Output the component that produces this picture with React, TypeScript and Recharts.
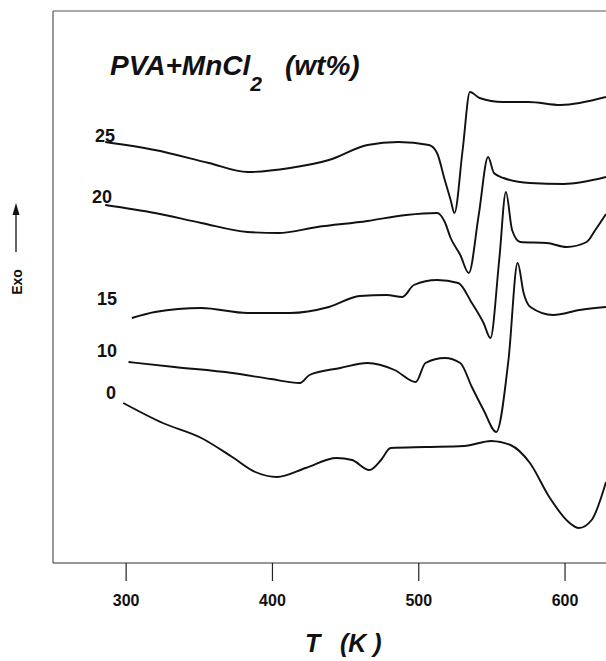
import { LineChart, Line, XAxis, YAxis, ReferenceLine } from "recharts";

// temperature (K) and signal (arb. units)
const curve25 = [
  { t: 285.7, v: 421 }, { t: 319.7, v: 413 }, { t: 356.6, v: 400 }, { t: 383, v: 391 },
  { t: 412, v: 395 }, { t: 438.6, v: 403 }, { t: 465, v: 418 }, { t: 486, v: 421 },
  { t: 507, v: 418 }, { t: 512.5, v: 410 }, { t: 517.8, v: 383 }, { t: 521.8, v: 363 },
  { t: 524.4, v: 350 }, { t: 530, v: 413 }, { t: 535, v: 471 }, { t: 541.6, v: 465 },
  { t: 557.5, v: 461 }, { t: 575, v: 461 }, { t: 597, v: 458 }, { t: 628, v: 466 },
];

const curve20 = [
  { t: 285.7, v: 358 }, { t: 319.7, v: 350 }, { t: 351.4, v: 340 }, { t: 383, v: 331 },
  { t: 404, v: 330 }, { t: 430.6, v: 336 }, { t: 465, v: 342 }, { t: 491.4, v: 348 },
  { t: 512.5, v: 350 }, { t: 517.8, v: 341 }, { t: 521.8, v: 325 }, { t: 528.4, v: 308 },
  { t: 534.2, v: 290 }, { t: 541, v: 348 }, { t: 547.4, v: 406 }, { t: 551.4, v: 390 },
  { t: 558, v: 385 }, { t: 576, v: 380 }, { t: 599, v: 379 }, { t: 628, v: 386 },
];

const curve15 = [
  { t: 303.9, v: 245 }, { t: 319.7, v: 251 }, { t: 351.4, v: 255 }, { t: 383, v: 250 },
  { t: 412, v: 250 }, { t: 438.6, v: 256 }, { t: 459.7, v: 267 }, { t: 478, v: 268 },
  { t: 488.8, v: 266 }, { t: 496.7, v: 278 }, { t: 512.5, v: 283 }, { t: 527, v: 280 },
  { t: 536.3, v: 260 }, { t: 544.3, v: 240 }, { t: 549, v: 225 }, { t: 555, v: 303 },
  { t: 559.6, v: 371 }, { t: 563.8, v: 333 }, { t: 569.4, v: 321 }, { t: 587.6, v: 320 },
  { t: 601, v: 316 }, { t: 614.8, v: 321 }, { t: 620.7, v: 333 }, { t: 628, v: 349 },
];

const curve10 = [
  { t: 301.6, v: 201 }, { t: 333, v: 196 }, { t: 372.5, v: 190 }, { t: 399, v: 184 },
  { t: 418.8, v: 180 }, { t: 425.3, v: 188 }, { t: 446.4, v: 195 }, { t: 465, v: 200 },
  { t: 483.5, v: 193 }, { t: 498, v: 181 }, { t: 504.6, v: 200 }, { t: 517.8, v: 205 },
  { t: 528.4, v: 200 }, { t: 536.3, v: 176 }, { t: 544.3, v: 153 }, { t: 553, v: 131 },
  { t: 561.4, v: 204 }, { t: 567.6, v: 300 }, { t: 571.7, v: 270 }, { t: 576.3, v: 256 },
  { t: 592, v: 248 }, { t: 610, v: 253 }, { t: 628, v: 256 },
];

const curve0 = [
  { t: 298, v: 160 }, { t: 325, v: 140 }, { t: 351.4, v: 125 }, { t: 372.5, v: 106 },
  { t: 388.3, v: 91 }, { t: 403, v: 86 }, { t: 422.7, v: 95 }, { t: 443.8, v: 105 },
  { t: 454.4, v: 103 }, { t: 466.3, v: 93 }, { t: 474.2, v: 103 }, { t: 480.8, v: 115 },
  { t: 504.6, v: 116 }, { t: 531, v: 117 }, { t: 549.6, v: 122 }, { t: 562.7, v: 118 },
  { t: 576, v: 100 }, { t: 589.2, v: 66 }, { t: 602.4, v: 41 }, { t: 609.5, v: 35 },
  { t: 618.2, v: 43 }, { t: 628, v: 81 },
];

const curves = [curve25, curve20, curve15, curve10, curve0];
const xTicks = [300, 400, 500, 600];

const font = "'Liberation Sans', Arial, sans-serif";
const ink = "#111";
const TICK_LEN = 18;
const TICK_GAP = 14;

// tick mark + label drawn together, hanging below the axis line
function XTick({ x, y, payload }: any) {
  return (
    <g>
      <line
        x1={x}
        x2={x}
        y1={y - TICK_GAP - TICK_LEN}
        y2={y - TICK_GAP}
        stroke="#222"
        strokeWidth={1.2}
      />
      <text
        x={x}
        y={y}
        dy="0.71em"
        textAnchor="middle"
        fill={ink}
        fontSize={16}
        fontWeight="bold"
        fontFamily={font}
      >
        {payload.value}
      </text>
    </g>
  );
}

export default function App() {
  return (
    <div style={{ position: "absolute", left: 0, top: 0, width: 606, height: 661, background: "#fff" }}>
      <LineChart width={606} height={661} margin={{ top: 11, right: 0, bottom: 0, left: 53 }}>
        <XAxis
          type="number"
          dataKey="t"
          domain={[250, 628]}
          ticks={xTicks}
          allowDataOverflow
          height={98}
          tickSize={TICK_LEN}
          tickMargin={TICK_GAP}
          axisLine={{ stroke: "#333" }}
          tickLine={false}
          tick={<XTick />}
        />
        <YAxis type="number" domain={[0, 552]} allowDataOverflow hide />
        <ReferenceLine y={552} stroke="#555" />
        <ReferenceLine x={250} stroke="#333" />
        {curves.map((c, i) => (
          <Line
            key={i}
            data={c}
            dataKey="v"
            type="monotone"
            stroke={ink}
            strokeWidth={1.9}
            dot={false}
            isAnimationActive={false}
          />
        ))}
      </LineChart>
      <svg
        width={606}
        height={661}
        style={{ position: "absolute", left: 0, top: 0, pointerEvents: "none" }}
        fontFamily={font}
        fontWeight="bold"
        fill={ink}
      >
        <text x={110} y={75} fontSize={28} fontStyle="italic">
          PVA+MnCl
          <tspan fontSize={21} dy={16}>2</tspan>
          <tspan x={285} dy={-16}>(wt%)</tspan>
        </text>
        <text fontSize={18}>
          <tspan x={95} y={142}>25</tspan>
          <tspan x={92} y={203}>20</tspan>
          <tspan x={97} y={305}>15</tspan>
          <tspan x={97} y={357}>10</tspan>
          <tspan x={106} y={399}>0</tspan>
        </text>
        <text x={305} y={652} fontSize={25} fontStyle="italic">
          T
          <tspan x={340}>(K )</tspan>
        </text>
        <text
          x={22}
          y={282}
          fontSize={14}
          textAnchor="middle"
          transform="rotate(-90 22 282)"
        >
          Exo
        </text>
        <line x1={16} y1={252} x2={16} y2={212} stroke={ink} strokeWidth={1.3} />
        <polygon points="16,203 12.5,215 19.5,215" fill={ink} />
      </svg>
    </div>
  );
}
